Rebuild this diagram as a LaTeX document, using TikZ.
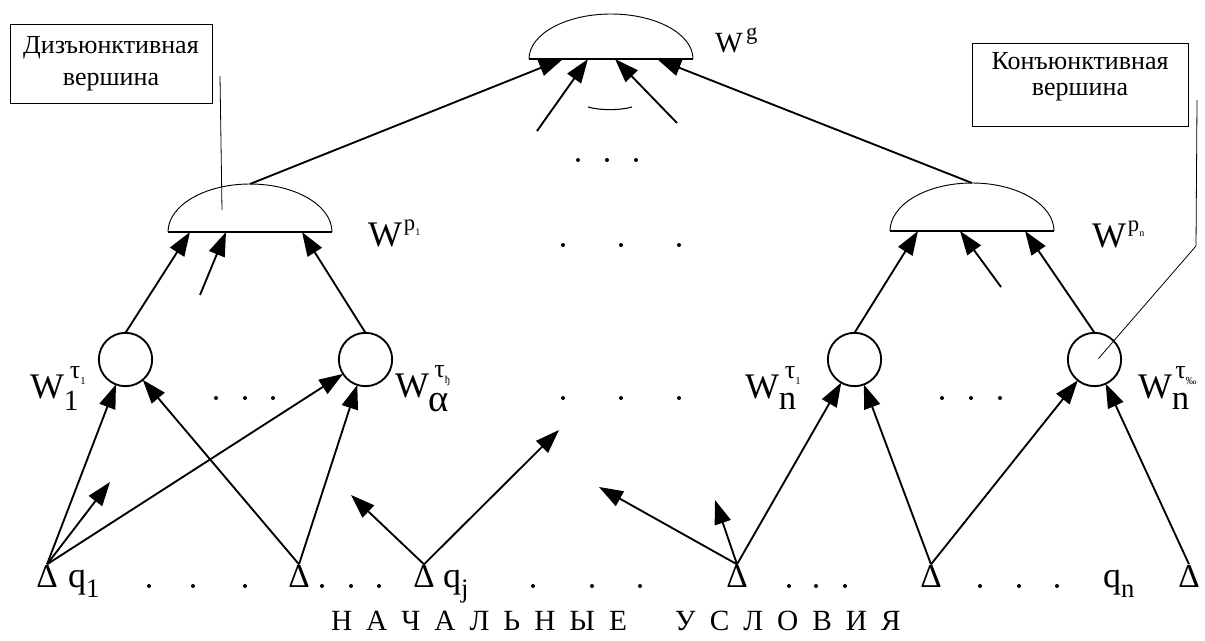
\documentclass[tikz,border=0pt]{standalone}
\usepackage{fontspec}
\setmainfont{Liberation Serif}
\usetikzlibrary{arrows.meta,calc}

% font size helper
\newcommand\fsz[1]{\fontsize{#1}{#1}\selectfont}
% W with a subscript (#1 at size #2, lowered #3) and a tau superscript
% carrying a tiny index #4; #5 is the gap before the tau
\newcommand\wtau[5]{{\fsz{27pt}W}\rlap{\raisebox{-#3}{\fsz{#2}#1}}\kern#5\raisebox{15pt}{\fsz{19.5pt}τ\raisebox{-4.5pt}{\fsz{8pt}#4}}}
% W with a p superscript (p carries a tiny index)
\newcommand\wpl[1]{{\fsz{27pt}W}\kern1.5pt\raisebox{12pt}{\fsz{17pt}p\raisebox{-3.75pt}{\fsz{7.5pt}#1}}}
% half-ellipse vertex: thin arc over a heavy base line
\newcommand\domeshape[2]{%
  \draw[line width=0.7pt] (#1.south west) arc[start angle=180,end angle=0,x radius=61.5pt,y radius=#2];
  \draw[line width=2.2pt] (#1.south west) -- (#1.south east);}

\begin{document}
\begin{tikzpicture}[x=0.75pt,y=-0.75pt,
  every node/.style={inner sep=0pt, outer sep=0pt},
  arr/.style={line width=1.4pt, -{Triangle[length=18pt,width=12.5pt]}},
  lead/.style={line width=0.6pt},
  dome/.style={rectangle, minimum width=123pt, minimum height=36pt, anchor=south},
  vtx/.style={circle, draw, line width=1.4pt, minimum size=40pt},
  tri/.style={font=\fsz{25pt}, text height=17pt, text depth=0pt, anchor=base},
  lab/.style={anchor=base west},
  note/.style={draw, line width=0.6pt, align=center},
]
\useasboundingbox (0,0) rectangle (1205,641);

% ---- vertices -------------------------------------------------
\node[dome, minimum height=33.75pt] (g) at (611,59) {};
\node[dome] (p1) at (250,232) {};
\node[dome] (pn) at (972,231) {};
\domeshape{g}{33.75pt}
\domeshape{p1}{36pt}
\domeshape{pn}{36pt}

\node[vtx] (c1) at (125.5,359.5) {};
\node[vtx] (c2) at (365.5,359.5) {};
\node[vtx] (c3) at (854.5,359.5) {};
\node[vtx] (c4) at (1094.5,359.5) {};

\node[tri] (d1) at (47,587) {Δ};
\node[tri] (d2) at (299,587) {Δ};
\node[tri] (d3) at (424,587) {Δ};
\node[tri] (d4) at (737,587) {Δ};
\node[tri] (d5) at (931,587) {Δ};
\node[tri] (d6) at (1189,587) {Δ};

% ---- labels ---------------------------------------------------
\node[lab] (wg) at (715,53) {{\fsz{22pt}W}\kern2.5pt\raisebox{10pt}{\fsz{17pt}g}};
\node[lab] (wp1) at (368,247) {\wpl{1}};
\node[lab] (wpn) at (1092,248) {\wpl{n}};

\node[lab] (w1) at (30,398) {\wtau{1}{22pt}{9.5pt}{1}{4.5pt}};
\node[lab] (wa) at (395,397) {\wtau{α}{29pt}{10.5pt}{ђ}{4pt}};
\node[lab] (wn1) at (745,398) {\wtau{n}{26pt}{8.5pt}{1}{4.5pt}};
\node[lab] (wnx) at (1138,398) {\wtau{n}{26pt}{8.5pt}{‰}{2.5pt}};

\node[lab] (q1) at (68,587) {{\fsz{27pt}q}\raisebox{-7.5pt}{\fsz{20pt}1}};
\node[lab] (qj) at (443,587) {{\fsz{27pt}q}\raisebox{-7.5pt}{\fsz{20pt}j}};
\node[lab] (qn) at (1103,587) {{\fsz{27pt}q}\raisebox{-7.5pt}{\fsz{20pt}n}};

\node[anchor=base west, font=\fsz{22pt}] (title) at (331,630)
  {\spaceskip=10.5pt Н А Ч А Л Ь Н Ы Е\hspace{36pt}У С Л О В И Я};

% ---- callout boxes --------------------------------------------
\node[note, minimum width=151.5pt, minimum height=59.25pt,
      font={\fontsize{19.5pt}{24pt}\selectfont}] (nd) at (111,63.5)
  {Дизъюнктивная\\вершина};
\node[note, minimum width=162pt, minimum height=62.25pt,
      font={\fontsize{19.5pt}{19.5pt}\selectfont}] (nc) at (1080,84.5)
  {Конъюнктивная\\вершина\rule[-15.5pt]{0pt}{15.5pt}};

\coordinate (l1a) at (220,76);
\coordinate (l1b) at (222,210);
\draw[lead] (l1a) -- (l1b);
\coordinate (l2a) at (1197,100);
\coordinate (l2b) at (1196,246);
\draw[lead] (l2a) -- (l2b) -- ($(c4.center)+(4,-1)$);

% ---- arcs into the goal vertex --------------------------------
\draw[arr] (p1.north) -- ($(g.south)+(-48,0)$);
\draw[arr] (pn.north) -- ($(g.south)+(46,0)$);
\coordinate (s1) at (537,131);
\coordinate (s2) at (677,123);
\draw[arr] (s1) -- ($(g.south)+(-23,0)$);
\draw[arr] (s2) -- ($(g.south)+(4,0)$);
\draw[line width=0.8pt] (588,107) .. controls (600,110.5) and (620,110.5) .. (632,107);

% ---- arcs into the disjunctive / conjunctive vertices ---------
\draw[arr] (c1.north) -- ($(p1.south)+(-60,0)$);
\coordinate (s3) at (200,295);
\draw[arr] (s3) -- ($(p1.south)+(-24,0)$);
\draw[arr] (c2.north) -- ($(p1.south)+(52,0)$);

\draw[arr] (c3.north) -- ($(pn.south)+(-54,0)$);
\coordinate (s4) at (1001,287);
\draw[arr] (s4) -- ($(pn.south)+(-12,0)$);
\draw[arr] (c4.north) -- ($(pn.south)+(53,0)$);

% ---- arcs from the initial conditions -------------------------
\coordinate (s5) at (110,482);
\coordinate (s6) at (351,495);
\coordinate (s7) at (559,430);
\coordinate (s8) at (599,487);
\coordinate (s9) at (715,500);
\draw[arr] (d1.north) -- (c1);
\draw[arr] (d1.north) -- (s5);
\draw[arr] (d1.north) -- (c2);
\draw[arr] (d2.north) -- (c1);
\draw[arr] (d2.north) -- (c2);
\draw[arr] (d3.north) -- (s6);
\draw[arr] (d3.north) -- (s7);
\draw[arr] (d4.north) -- (s8);
\draw[arr] (d4.north) -- (s9);
\draw[arr] (d4.north) -- (c3);
\draw[arr] (d5.north) -- (c3);
\draw[arr] (d5.north) -- (c4);
\draw[arr] (d6.north) -- (c4);

% ---- ellipsis dots --------------------------------------------
\foreach \x/\y in {578/160,607/160,636/160,
                   563/245,621/245,679/245,
                   216/398,245/398,273/398,563/398,621/398,679/398,
                   942/398,971/398,1000/398,
                   149/586,193/586,245/586,322/586,351/586,379/586,
                   533/586,592/586,640/586,789/586,816/586,845/586,
                   980/586,1019/586,1057/586}
  \fill (\x,\y) circle[radius=1.5pt];
\end{tikzpicture}
\end{document}
